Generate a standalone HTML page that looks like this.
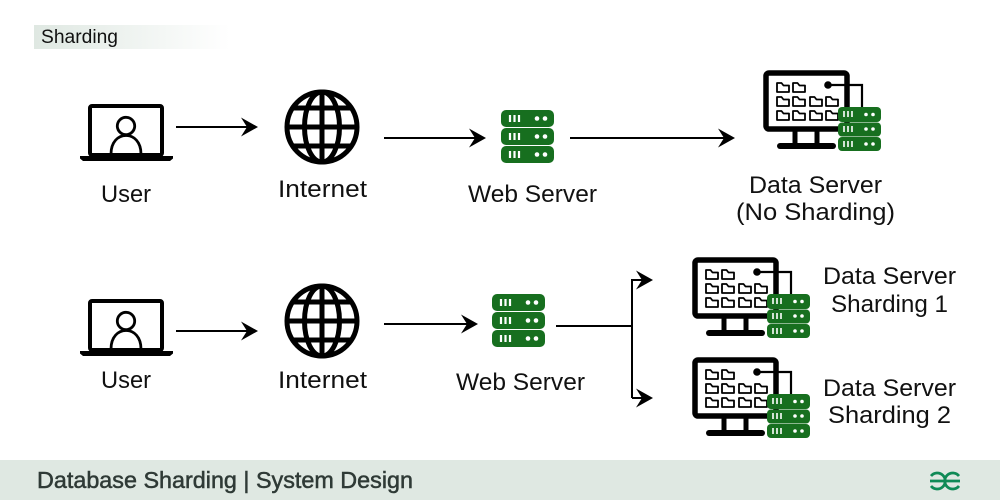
<!DOCTYPE html>
<html><head><meta charset="utf-8"><style>
html,body{margin:0;padding:0;background:#fff}
svg{display:block}
text{font-family:"Liberation Sans",sans-serif;fill:#111}
</style></head><body>
<svg width="1000" height="500" viewBox="0 0 1000 500" xmlns="http://www.w3.org/2000/svg">
<defs>
<linearGradient id="g" x1="0" x2="1" y1="0" y2="0"><stop offset="0" stop-color="#dfe8e2"/><stop offset="1" stop-color="#fff"/></linearGradient>
<g id="laptop">
<rect x="90" y="106" width="72" height="49" rx="2" fill="#fff" stroke="#000" stroke-width="4"/>
<circle cx="126" cy="126" r="8.700" fill="none" stroke="#000" stroke-width="2.800"/>
<path d="M111 154c0-12 7-18.500 15-18.500s15 6.500 15 18.500" fill="none" stroke="#000" stroke-width="2.800"/>
<path d="M80 156h93v2.500l-3 2.500h-87l-3-2.500z" fill="#000"/>
</g>
<g id="globe" fill="none" stroke="#000" stroke-width="5">
<circle cx="322" cy="127" r="35"/>
<ellipse cx="322" cy="127" rx="17.500" ry="35"/>
<path d="M322 92v70M287 127h70M291 108h62M291 146h62"/>
</g>
<g id="row"><rect x="501" y="0" width="53" height="17" rx="5" fill="#176f1f"/><path d="M510 5v7M514.500 5v7M519 5v7" stroke="#fff" stroke-width="2.200"/><circle cx="537" cy="8.500" r="2.300" fill="#fff"/><circle cx="545" cy="8.500" r="2.300" fill="#fff"/></g>
<g id="server"><use href="#row" y="110"/><use href="#row" y="128"/><use href="#row" y="146"/></g>
<path id="folder" d="M0 1h4.500l2 2.500H12V10H0z" fill="#fff" stroke="#000" stroke-width="1.800" stroke-linejoin="round"/>
<g id="data">
<rect x="766" y="73" width="81" height="56" rx="3" fill="#fff" stroke="#000" stroke-width="5.500"/>
<path d="M795 131v15M817 131v15" stroke="#000" stroke-width="5"/>
<path d="M780 146h53" stroke="#000" stroke-width="6" stroke-linecap="round"/>
<use href="#folder" x="777" y="82"/><use href="#folder" x="793" y="82"/>
<use href="#folder" x="777" y="96"/><use href="#folder" x="793" y="96"/><use href="#folder" x="810" y="96"/><use href="#folder" x="826" y="96"/>
<use href="#folder" x="777" y="110"/><use href="#folder" x="793" y="110"/><use href="#folder" x="810" y="110"/><use href="#folder" x="826" y="110"/>
<circle cx="828" cy="85" r="3.800" fill="#000"/>
<path d="M828 85h34v23" fill="none" stroke="#000" stroke-width="2.200"/>
<g fill="#176f1f"><rect x="838" y="107" width="43" height="15" rx="4"/><rect x="838" y="122.500" width="43" height="14" rx="4"/><rect x="838" y="137" width="43" height="14" rx="4"/></g>
<path d="M844 111v6M848 111v6M852 111v6M844 126v6M848 126v6M852 126v6M844 141v6M848 141v6M852 141v6" stroke="#fff" stroke-width="1.600"/>
<g fill="#fff"><circle cx="866" cy="114.500" r="1.800"/><circle cx="873" cy="114.500" r="1.800"/><circle cx="866" cy="129" r="1.800"/><circle cx="873" cy="129" r="1.800"/><circle cx="866" cy="144" r="1.800"/><circle cx="873" cy="144" r="1.800"/></g>
</g>
<path id="ah" d="M0 0l-17-9.500 6 9.500-6 9.500z" fill="#000"/>
</defs>

<rect x="34" y="25" width="196" height="24" fill="url(#g)"/>
<text x="41" y="43" font-size="19" textLength="77" lengthAdjust="spacingAndGlyphs">Sharding</text>

<use href="#laptop"/><use href="#globe"/><use href="#server"/><use href="#data"/>
<use href="#laptop" y="195"/><use href="#globe" y="194"/><use href="#server" x="-9" y="184"/>
<use href="#data" x="-71" y="187"/><use href="#data" x="-71" y="287"/>

<g stroke="#000" stroke-width="2" fill="none">
<path d="M176 127h72M384 138h92M570 138h155M176 331h72M384 324h84M556 326h76M632 398V280h12M632 398h12"/>
</g>
<use href="#ah" x="258" y="127"/><use href="#ah" x="486" y="138"/><use href="#ah" x="735" y="138"/>
<use href="#ah" x="258" y="331"/><use href="#ah" x="478" y="324"/><use href="#ah" x="653" y="280"/><use href="#ah" x="653" y="398"/>

<g font-size="24">
<text x="101" y="202" textLength="50" lengthAdjust="spacingAndGlyphs">User</text>
<text x="278" y="197" textLength="89" lengthAdjust="spacingAndGlyphs">Internet</text>
<text x="468" y="202" textLength="129" lengthAdjust="spacingAndGlyphs">Web Server</text>
<text x="749" y="193" textLength="133" lengthAdjust="spacingAndGlyphs">Data Server</text>
<text x="736" y="220" textLength="159" lengthAdjust="spacingAndGlyphs">(No Sharding)</text>
<text x="101" y="388" textLength="50" lengthAdjust="spacingAndGlyphs">User</text>
<text x="278" y="388" textLength="89" lengthAdjust="spacingAndGlyphs">Internet</text>
<text x="456" y="390" textLength="129" lengthAdjust="spacingAndGlyphs">Web Server</text>
<text x="823" y="284" textLength="133" lengthAdjust="spacingAndGlyphs">Data Server</text>
<text x="831" y="312" textLength="117" lengthAdjust="spacingAndGlyphs">Sharding 1</text>
<text x="823" y="396" textLength="133" lengthAdjust="spacingAndGlyphs">Data Server</text>
<text x="828" y="423" textLength="123" lengthAdjust="spacingAndGlyphs">Sharding 2</text>
</g>

<rect x="0" y="460" width="1000" height="40" fill="#dfe8e2"/>
<text x="37" y="488" font-size="23" style="fill:#2f3a36;stroke:#2f3a36;stroke-width:.5" textLength="376" lengthAdjust="spacingAndGlyphs">Database Sharding | System Design</text>
<g fill="none" stroke="#0f8a56" stroke-width="2.800">
<path d="M931 476A8 8 0 1 1 931 486"/>
<path d="M959 476A8 8 0 1 0 959 486"/>
<path d="M930 481H960"/>
</g>
</svg>
</body></html>
